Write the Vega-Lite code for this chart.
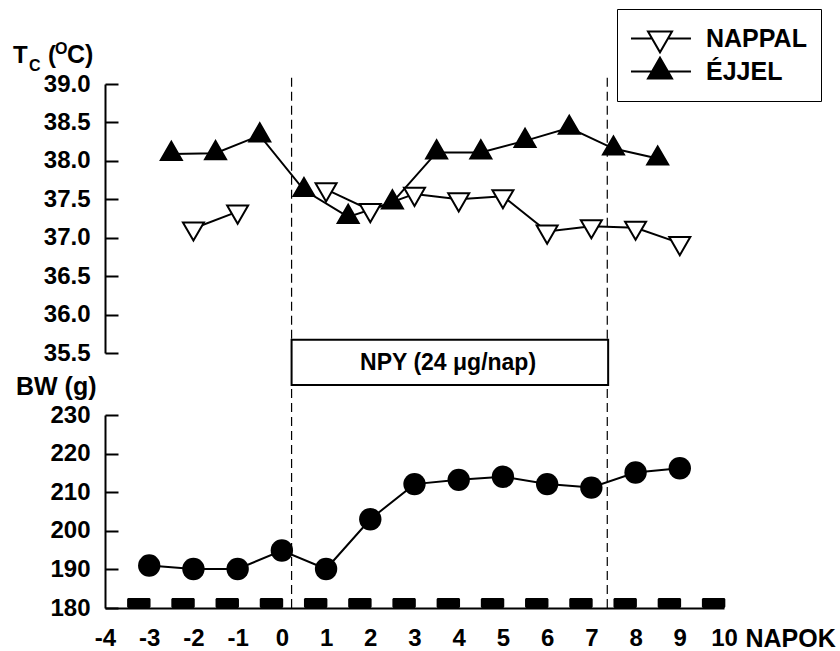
{
  "$schema": "https://vega.github.io/schema/vega-lite/v6.json",
  "background": "white",
  "padding": {"left": 13, "top": 8, "right": 0, "bottom": 0},
  "autosize": {"type": "pad"},
  "spacing": 62,
  "bounds": "flush",
  "config": {
    "view": {"stroke": null},
    "axis": {
      "domainColor": "black", "domainWidth": 2, "tickColor": "black", "tickWidth": 2,
      "labelColor": "black", "labelFont": "Liberation Sans", "labelFontWeight": "bold", "labelFontSize": 24,
      "labelOverlap": false, "labelSeparation": 0, "labelBound": false,
      "titleColor": "black", "titleFont": "Liberation Sans", "titleFontWeight": "bold", "grid": false
    }
  },
  "datasets": {
    "tc": [
      {"day": -2, "temp": 37.12, "series": "NAPPAL", "seg": "N1"},
      {"day": -1, "temp": 37.34, "series": "NAPPAL", "seg": "N1"},
      {"day": 1, "temp": 37.63, "series": "NAPPAL", "seg": "N2"},
      {"day": 2, "temp": 37.36, "series": "NAPPAL", "seg": "N2"},
      {"day": 3, "temp": 37.57, "series": "NAPPAL", "seg": "N2"},
      {"day": 4, "temp": 37.5, "series": "NAPPAL", "seg": "N2"},
      {"day": 5, "temp": 37.54, "series": "NAPPAL", "seg": "N2"},
      {"day": 6, "temp": 37.08, "series": "NAPPAL", "seg": "N2"},
      {"day": 7, "temp": 37.15, "series": "NAPPAL", "seg": "N2"},
      {"day": 8, "temp": 37.13, "series": "NAPPAL", "seg": "N2"},
      {"day": 9, "temp": 36.93, "series": "NAPPAL", "seg": "N2"},
      {"day": -2.5, "temp": 38.09, "series": "ÉJJEL", "seg": "E"},
      {"day": -1.5, "temp": 38.1, "series": "ÉJJEL", "seg": "E"},
      {"day": -0.5, "temp": 38.33, "series": "ÉJJEL", "seg": "E"},
      {"day": 0.5, "temp": 37.62, "series": "ÉJJEL", "seg": "E"},
      {"day": 1.5, "temp": 37.27, "series": "ÉJJEL", "seg": "E"},
      {"day": 2.5, "temp": 37.46, "series": "ÉJJEL", "seg": "E"},
      {"day": 3.5, "temp": 38.11, "series": "ÉJJEL", "seg": "E"},
      {"day": 4.5, "temp": 38.11, "series": "ÉJJEL", "seg": "E"},
      {"day": 5.5, "temp": 38.26, "series": "ÉJJEL", "seg": "E"},
      {"day": 6.5, "temp": 38.43, "series": "ÉJJEL", "seg": "E"},
      {"day": 7.5, "temp": 38.16, "series": "ÉJJEL", "seg": "E"},
      {"day": 8.5, "temp": 38.03, "series": "ÉJJEL", "seg": "E"}
    ],
    "bw": [
      {"day": -3, "bw": 191}, {"day": -2, "bw": 190.1}, {"day": -1, "bw": 190.1},
      {"day": 0, "bw": 194.9}, {"day": 1, "bw": 190.1}, {"day": 2, "bw": 203},
      {"day": 3, "bw": 212.1}, {"day": 4, "bw": 213.2}, {"day": 5, "bw": 214},
      {"day": 6, "bw": 212.1}, {"day": 7, "bw": 211.2}, {"day": 8, "bw": 215.1},
      {"day": 9, "bw": 216.2}
    ],
    "dark": [
      {"start": -3.5, "end": -2.97}, {"start": -2.5, "end": -1.97}, {"start": -1.5, "end": -0.97},
      {"start": -0.5, "end": 0.03}, {"start": 0.5, "end": 1.03}, {"start": 1.5, "end": 2.03},
      {"start": 2.5, "end": 3.03}, {"start": 3.5, "end": 4.03}, {"start": 4.5, "end": 5.03},
      {"start": 5.5, "end": 6.03}, {"start": 6.5, "end": 7.03}, {"start": 7.5, "end": 8.03},
      {"start": 8.5, "end": 9.03}, {"start": 9.5, "end": 10.03}
    ],
    "npy": [{"day": 0.22}, {"day": 7.36}],
    "box": [{"start": 0.22, "end": 7.38, "label": "NPY (24 μg/nap)"}]
  },
  "vconcat": [
    {
      "width": 619,
      "height": 269,
      "layer": [
        {
          "data": {"name": "tc"},
          "mark": {"type": "line", "color": "black", "strokeWidth": 2},
          "encoding": {
            "x": {"field": "day", "type": "quantitative", "scale": {"domain": [-4, 10], "nice": false, "zero": false}, "axis": null},
            "y": {"field": "temp", "type": "quantitative", "scale": {"domain": [35.5, 39], "nice": false, "zero": false},
                  "axis": {"title": null, "values": [35.5, 36, 36.5, 37, 37.5, 38, 38.5, 39], "tickCount": 30, "format": ".1f", "tickSize": -13, "labelPadding": 28, "labelOverlap": false, "labelFlush": false}},
            "detail": {"field": "seg", "type": "nominal"}
          }
        },
        {
          "data": {"name": "npy"},
          "mark": {"type": "rule", "strokeDash": [9, 5], "strokeWidth": 1.2, "color": "black"},
          "encoding": {
            "x": {"field": "day", "type": "quantitative", "axis": null},
            "y": {"datum": 39.08, "type": "quantitative"},
            "y2": {"datum": 35.5}
          }
        },
        {
          "data": {"name": "tc"},
          "mark": {"type": "point", "filled": true, "stroke": "black", "strokeWidth": 2, "size": 441, "opacity": 1},
          "encoding": {
            "x": {"field": "day", "type": "quantitative", "axis": null},
            "y": {"field": "temp", "type": "quantitative"},
            "shape": {"condition": {"test": "datum.series === 'NAPPAL'", "value": "M-1,-0.577L1,-0.577L0,1.155Z"}, "value": "M0,-1.155L1,0.577L-1,0.577Z"},
            "fill": {
              "field": "series", "type": "nominal",
              "scale": {"domain": ["NAPPAL", "ÉJJEL"], "range": ["white", "black"]},
              "legend": {
                "title": null, "orient": "none", "legendX": 512, "legendY": -75,
                "strokeColor": "black", "fillColor": "white", "padding": 14,
                "symbolSize": 576, "symbolOffset": 16, "labelOffset": 33, "rowPadding": 2, "clipHeight": 31,
                "labelFont": "Liberation Sans", "labelFontWeight": "bold", "labelFontSize": 25, "labelColor": "black",
                "symbolStrokeColor": "black", "symbolStrokeWidth": 2,
                "encoding": {
                  "symbols": {
                    "shape": {"condition": {"test": "datum.value === 'NAPPAL'", "value": "M-2.58,0H-0.67M0.67,0H2.58M-1,-0.577H1L0,1.155Z"}, "value": "M-2.58,0H2.58M0,-1.155L1,0.577H-1Z"},
                    "stroke": {"value": "black"},
                    "strokeWidth": {"value": 2},
                    "opacity": {"value": 1}
                  }
                }
              }
            }
          }
        },
        {
          "data": {"values": [{}]},
          "mark": {"type": "text", "text": "T", "align": "left", "baseline": "alphabetic", "dx": -92, "dy": -21, "fontSize": 24, "font": "Liberation Sans", "fontWeight": "bold", "color": "black"},
          "encoding": {
            "x": {"datum": -4, "type": "quantitative", "axis": null},
            "y": {"datum": 39, "type": "quantitative"}
          }
        },
        {
          "data": {"values": [{}]},
          "mark": {"type": "text", "text": "C", "align": "left", "baseline": "alphabetic", "dx": -76, "dy": -13, "fontSize": 16, "font": "Liberation Sans", "fontWeight": "bold", "color": "black"},
          "encoding": {
            "x": {"datum": -4, "type": "quantitative", "axis": null},
            "y": {"datum": 39, "type": "quantitative"}
          }
        },
        {
          "data": {"values": [{}]},
          "mark": {"type": "text", "text": "(", "align": "left", "baseline": "alphabetic", "dx": -57, "dy": -21, "fontSize": 24, "font": "Liberation Sans", "fontWeight": "bold", "color": "black"},
          "encoding": {
            "x": {"datum": -4, "type": "quantitative", "axis": null},
            "y": {"datum": 39, "type": "quantitative"}
          }
        },
        {
          "data": {"values": [{}]},
          "mark": {"type": "text", "text": "O", "align": "left", "baseline": "alphabetic", "dx": -50, "dy": -30, "fontSize": 16, "font": "Liberation Sans", "fontWeight": "bold", "color": "black"},
          "encoding": {
            "x": {"datum": -4, "type": "quantitative", "axis": null},
            "y": {"datum": 39, "type": "quantitative"}
          }
        },
        {
          "data": {"values": [{}]},
          "mark": {"type": "text", "text": "C)", "align": "left", "baseline": "alphabetic", "dx": -38, "dy": -21, "fontSize": 25, "font": "Liberation Sans", "fontWeight": "bold", "color": "black"},
          "encoding": {
            "x": {"datum": -4, "type": "quantitative", "axis": null},
            "y": {"datum": 39, "type": "quantitative"}
          }
        }
      ]
    },
    {
      "width": 619,
      "height": 193,
      "layer": [
        {
          "data": {"name": "bw"},
          "mark": {"type": "line", "color": "black", "strokeWidth": 2},
          "encoding": {
            "x": {"field": "day", "type": "quantitative", "scale": {"domain": [-4, 10], "nice": false, "zero": false},
                  "axis": {"title": "NAPOK", "values": [-4, -3, -2, -1, 0, 1, 2, 3, 4, 5, 6, 7, 8, 9, 10], "tickCount": 30,
                           "labelExpr": "datum.value < 0 ? '-' + abs(datum.value) : '' + datum.value",
                           "ticks": false, "tickSize": 0, "labelPadding": 18, "labelFlush": false, "labelOverlap": false,
                           "titleX": 640, "titleY": 18, "titleAlign": "left", "titleBaseline": "top", "titleAngle": 0, "titleFontSize": 25}},
            "y": {"field": "bw", "type": "quantitative", "scale": {"domain": [180, 230], "nice": false, "zero": false},
                  "axis": {"title": "BW (g)", "values": [180, 190, 200, 210, 220, 230], "tickCount": 30, "tickSize": -13, "labelPadding": 28, "labelOverlap": false, "labelFlush": false,
                           "titleX": -89.5, "titleY": -21, "titleAlign": "left", "titleBaseline": "alphabetic", "titleAngle": 0, "titleFontSize": 25}}
          }
        },
        {
          "data": {"name": "npy"},
          "mark": {"type": "rule", "strokeDash": [9, 5], "strokeWidth": 1.2, "color": "black"},
          "encoding": {
            "x": {"field": "day", "type": "quantitative"},
            "y": {"datum": 180, "type": "quantitative"},
            "y2": {"datum": 237.8}
          }
        },
        {
          "data": {"name": "dark"},
          "mark": {"type": "rect", "color": "black", "cornerRadius": 1.5},
          "encoding": {
            "x": {"field": "start", "type": "quantitative"},
            "x2": {"field": "end"},
            "y": {"datum": 180, "type": "quantitative"},
            "y2": {"datum": 182.6}
          }
        },
        {
          "data": {"name": "bw"},
          "mark": {"type": "point", "shape": "circle", "filled": true, "color": "black", "size": 500, "opacity": 1},
          "encoding": {
            "x": {"field": "day", "type": "quantitative"},
            "y": {"field": "bw", "type": "quantitative"}
          }
        },
        {
          "data": {"name": "box"},
          "mark": {"type": "rect", "fill": "white", "stroke": "black", "strokeWidth": 2},
          "encoding": {
            "x": {"field": "start", "type": "quantitative"},
            "x2": {"field": "end"},
            "y": {"datum": 237.8, "type": "quantitative"},
            "y2": {"datum": 249.5}
          }
        },
        {
          "data": {"name": "box"},
          "mark": {"type": "text", "align": "center", "baseline": "alphabetic", "fontSize": 23, "font": "Liberation Sans", "fontWeight": "bold", "color": "black"},
          "encoding": {
            "text": {"field": "label"},
            "x": {"datum": 3.76, "type": "quantitative"},
            "y": {"datum": 241.7, "type": "quantitative"}
          }
        }
      ]
    }
  ]
}
